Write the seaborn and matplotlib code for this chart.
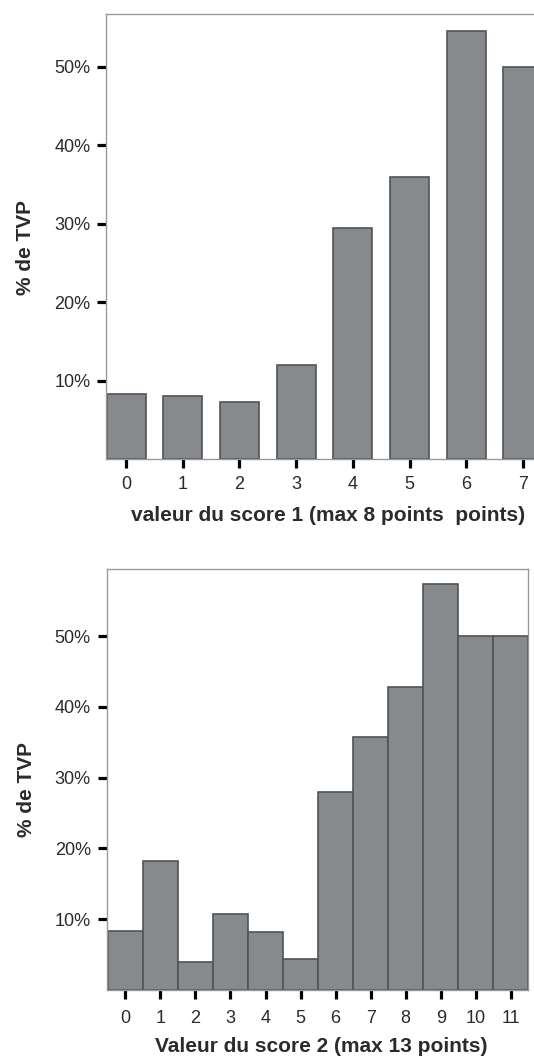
#!/usr/bin/env python3
"""Deux histogrammes : % de TVP selon la valeur des scores 1 et 2."""

import pandas as pd
import seaborn as sns
from matplotlib import pyplot as plt

# Score 1 (max 8 points)
score1_values = ["0", "1", "2", "3", "4", "5", "6", "7"]
score1_pct = [8.35, 8.1, 7.35, 12.0, 29.5, 36.0, 54.5, 50.0]

# Score 2 (max 13 points)
score2_values = ["0", "1", "2", "3", "4", "5", "6", "7", "8", "9", "10", "11"]
score2_pct = [8.35, 18.2, 4.0, 10.8, 8.15, 4.4, 27.9, 35.8, 42.8, 57.3, 50.0, 50.0]

y_ticks = [10, 20, 30, 40, 50]
y_ticklabels = ["10%", "20%", "30%", "40%", "50%"]

BAR_COLOR = "#878a8d"
EDGE_COLOR = "#505357"
SPINE_COLOR = "#999999"
TEXT_COLOR = "#2b2b2b"


def style_axes(ax, xlabel, ylabel_xy, xlabel_xy, xpad):
    ax.set_yticks(y_ticks)
    ax.set_yticklabels(y_ticklabels)
    ax.tick_params(axis="both", direction="out", length=6.5, width=2.3,
                   color="black", labelsize=13, labelcolor=TEXT_COLOR,
                   bottom=True, left=True)
    ax.tick_params(axis="y", pad=5)
    ax.tick_params(axis="x", pad=xpad)
    ax.set_ylabel("% de TVP", fontsize=15, fontweight="bold", color=TEXT_COLOR)
    ax.set_xlabel(xlabel, fontsize=15, fontweight="bold", color=TEXT_COLOR)
    ax.yaxis.set_label_coords(*ylabel_xy)
    ax.xaxis.set_label_coords(*xlabel_xy)
    ax.grid(False)
    for side in ["left", "right", "top", "bottom"]:
        ax.spines[side].set_color(SPINE_COLOR)
        ax.spines[side].set_linewidth(1.0)


def main():
    sns.set_theme(style="white")
    plt.rcParams["font.family"] = ["Liberation Sans", "DejaVu Sans"]

    df1 = pd.DataFrame({"valeur": score1_values, "pct": score1_pct})
    df2 = pd.DataFrame({"valeur": score2_values, "pct": score2_pct})

    fig = plt.figure(figsize=(5.34, 10.57), dpi=100)

    # Bloc 1 — score 1 (barres séparées, axe coupé à droite)
    ax1 = fig.add_axes([0.199, 0.5653, 0.844, 0.4215])
    sns.barplot(data=df1, x="valeur", y="pct", order=score1_values,
                color=BAR_COLOR, saturation=1, width=0.69,
                edgecolor=EDGE_COLOR, linewidth=1.2, ax=ax1)
    ax1.set_xlim(-0.35, 7.6)
    ax1.set_ylim(0, 56.7)
    style_axes(ax1, "valeur du score 1 (max 8 points  points)",
               (-0.158, 0.476), (0.492, -0.104), xpad=5.5)

    # Bloc 2 — score 2 (barres jointives)
    ax2 = fig.add_axes([0.2, 0.0634, 0.7893, 0.3985])
    sns.barplot(data=df2, x="valeur", y="pct", order=score2_values,
                color=BAR_COLOR, saturation=1, width=1.0,
                edgecolor=EDGE_COLOR, linewidth=1.2, ax=ax2)
    ax2.set_xlim(-0.53, 11.5)
    ax2.set_ylim(0, 59.5)
    style_axes(ax2, "Valeur du score 2 (max 13 points)",
               (-0.168, 0.4755), (0.508, -0.111), xpad=8)

    fig.savefig("out.png", dpi=100)


if __name__ == "__main__":
    main()
